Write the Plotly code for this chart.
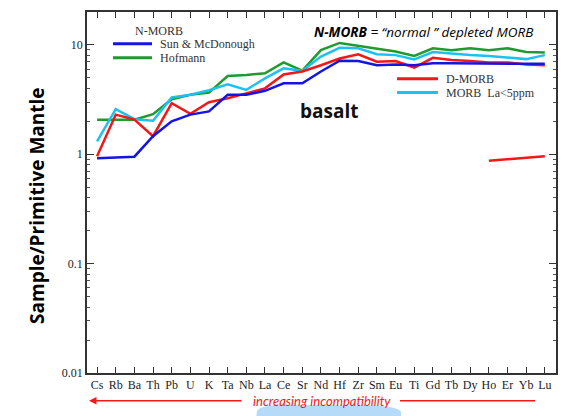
import plotly.graph_objects as go

# element order for the spider diagram
elements = ["Cs", "Rb", "Ba", "Th", "Pb", "U", "K", "Ta", "Nb", "La", "Ce", "Sr", "Nd",
            "Hf", "Zr", "Sm", "Eu", "Ti", "Gd", "Tb", "Dy", "Ho", "Er", "Yb", "Lu"]

# N-MORB normalised to primitive mantle
sun_mcdonough = [0.92, 0.93, 0.95, 1.46, 2.0, 2.3, 2.46, 3.49, 3.49, 3.8, 4.45, 4.45, 5.7,
                 7.15, 7.1, 6.5, 6.6, 6.5, 6.77, 6.77, 6.77, 6.77, 6.77, 6.77, 6.7]
hofmann = [2.07, 2.07, 2.07, 2.32, 3.18, 3.49, 3.66, 5.19, 5.3, 5.5, 6.9, 5.8, 8.95,
           10.4, 9.8, 9.2, 8.7, 7.9, 9.3, 8.9, 9.3, 8.9, 9.3, 8.6, 8.5]
d_morb = [0.96, 2.3, 2.07, 1.46, 2.93, 2.34, 2.99, 3.25, 3.6, 4.0, 5.36, 5.7, 6.5,
          7.5, 8.2, 7.0, 7.1, 6.2, 7.6, 7.25, 7.1, 6.9, 6.9, 6.6, 6.5]
morb_la5 = [1.31, 2.58, 2.09, 2.02, 3.3, 3.49, 3.84, 4.36, 3.87, 4.94, 6.1, 5.78, 7.8,
            9.4, 9.3, 8.2, 8.05, 7.35, 8.6, 8.3, 8.05, 7.9, 7.6, 7.4, 8.05]
# stray red fragment near 1 on the right
frag_elements = ["Ho", "Er", "Yb", "Lu"]
frag_values = [0.87, 0.90, 0.93, 0.96]

BLUE = "#1414e6"
GREEN = "#1f9a2e"
RED = "#f01818"
CYAN = "#1ec0f2"

# page puts the figure 8px in from the top-left, so work in screen px and shift
OFF = 8
W, H = 574 - OFF, 416 - OFF
L, R, T, B = 87, 556, 10, 373


def px(x):
    return (x - L) / (R - L)


def py(y):
    return (B - y) / (B - T)


fig = go.Figure()
xi = list(range(len(elements)))
for vals, col in [(hofmann, GREEN), (morb_la5, CYAN), (d_morb, RED), (sun_mcdonough, BLUE)]:
    fig.add_trace(go.Scatter(x=xi, y=vals, mode="lines", line=dict(color=col, width=2.5),
                             showlegend=False, hoverinfo="skip"))
fig.add_trace(go.Scatter(x=[elements.index(e) for e in frag_elements], y=frag_values,
                         mode="lines", line=dict(color=RED, width=2.5),
                         showlegend=False, hoverinfo="skip"))

minor_vals = [m * 10.0 ** k for k in range(-2, 2) for m in range(2, 10)]

fig.update_layout(
    width=W, height=H,
    margin=dict(l=L - OFF, r=574 - R, t=T - OFF, b=416 - B),
    plot_bgcolor="#ffffff", paper_bgcolor="#ffffff",
    font=dict(family="Liberation Serif", color="#222222", size=12),
)
fig.update_xaxes(
    range=[-0.54, 24.6], tickmode="array", tickvals=xi, ticktext=elements,
    ticks="inside", ticklen=6, tickcolor="#333", showgrid=False, zeroline=False,
    showline=True, linecolor="#333", linewidth=1.5, mirror="ticks",
    tickfont=dict(family="Liberation Serif", size=12, color="#222"),
)
fig.update_yaxes(
    type="log", range=[-2, 1.3], tickvals=[0.01, 0.1, 1, 10], ticktext=["0.01", "0.1", "1", "10"],
    ticks="inside", ticklen=7, tickcolor="#333", showgrid=False, zeroline=False,
    showline=True, linecolor="#333", linewidth=1.5, mirror="ticks",
    minor=dict(tickmode="array", tickvals=minor_vals, ticks="inside", ticklen=3, tickcolor="#555"),
    tickfont=dict(family="Liberation Serif", size=12, color="#222"),
)

ann = []
shapes = []


def text(s, x, y, size, family="Liberation Serif", color="#333", xanchor="center", **kw):
    ann.append(dict(text=s, xref="paper", yref="paper", x=px(x), y=py(y), xanchor=xanchor,
                    yanchor="middle", showarrow=False,
                    font=dict(family=family, size=size, color=color), **kw))


# y axis title
text("<b>Sample/Primitive Mantle</b>", 37, 205, 19, family="Open Sans", color="#000", textangle=-90)
# legend groups drawn by hand
text("N-MORB", 133, 29, 12, xanchor="left")
for y0, col, lab, x0, x1 in [(42, BLUE, "Sun &amp; McDonough", 113, 152),
                             (56, GREEN, "Hofmann", 113, 152),
                             (77, RED, "D-MORB", 397, 438),
                             (91, CYAN, "MORB  La&lt;5ppm", 397, 438)]:
    shapes.append(dict(type="line", xref="paper", yref="paper", x0=px(x0), x1=px(x1),
                       y0=py(y0), y1=py(y0), line=dict(color=col, width=3)))
    text(lab, x1 + 6, y0, 12, xanchor="left")
# header note
text("<b><i>N-MORB</i></b><i> = \u201cnormal \u201d depleted MORB</i>", 423, 30, 13.5,
     family="Open Sans", color="#000")
# basalt label and arrow
text("<b>basalt</b>", 329, 110, 19, family="Open Sans", color="#111")
ann.append(dict(text="", x=12.43, y=5.1, ax=0, ay=25, showarrow=True, arrowhead=2,
                arrowsize=1.2, arrowwidth=1.8, arrowcolor="#666666"))
# increasing incompatibility arrow, with the light blue blob under it
shapes.append(dict(type="path", xref="paper", yref="paper",
                   path=f"M {px(256)},{py(420)} L {px(257)},{py(411)} Q {px(261)},{py(405)} {px(290)},{py(405)} "
                        f"L {px(375)},{py(406)} Q {px(398)},{py(407)} {px(401)},{py(412)} L {px(401)},{py(420)} Z",
                   fillcolor="#b5dbf8", line=dict(width=0), layer="below"))
text("<i>increasing incompatibility</i>", 322, 401, 13, family="Lato", color=RED)
ann.append(dict(text="", xref="paper", yref="paper", x=px(89), y=py(401), ax=154, ay=0,
                showarrow=True, arrowhead=2, arrowsize=1, arrowwidth=1.5, arrowcolor=RED))
shapes.append(dict(type="line", xref="paper", yref="paper", x0=px(400), x1=px(535),
                   y0=py(401), y1=py(401), line=dict(color=RED, width=1.5)))

fig.update_layout(annotations=ann, shapes=shapes)
fig.write_html("out.html")
